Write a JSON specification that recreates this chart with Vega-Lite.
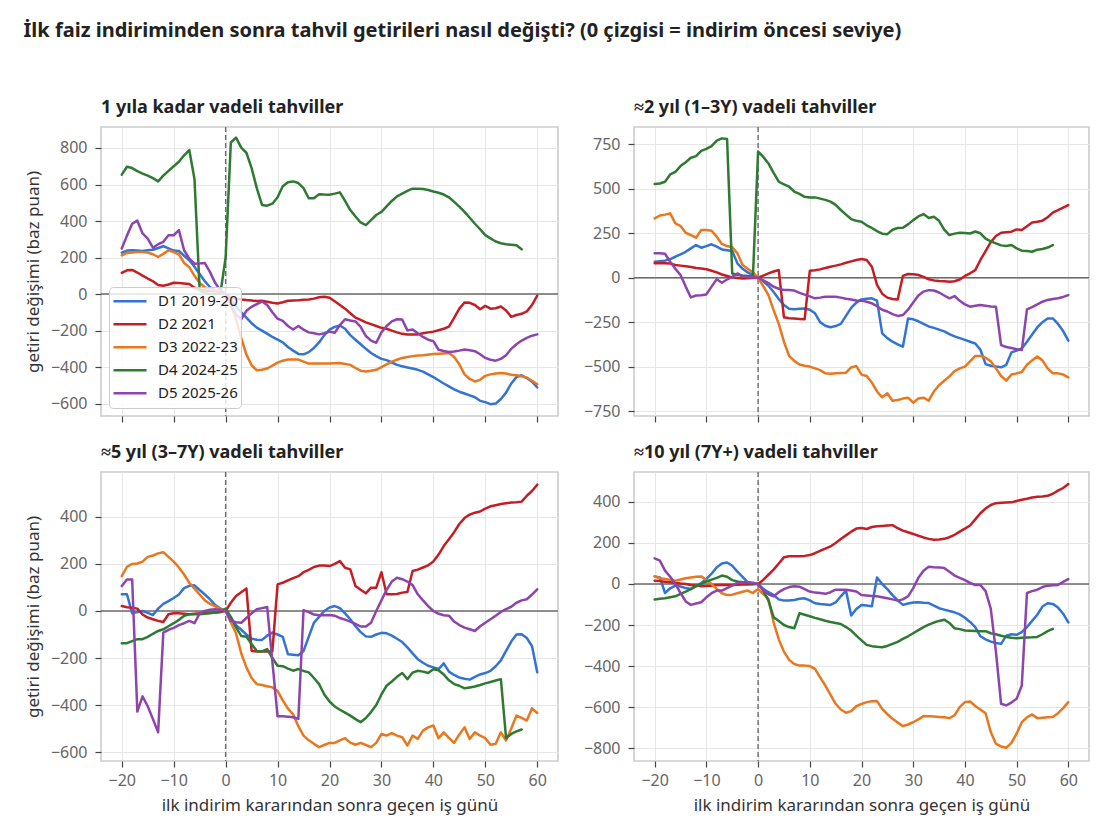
{
"$schema":"https://vega.github.io/schema/vega-lite/v6.json",
"padding":{"left":23,"top":20,"right":20,"bottom":8},
"title":{"text":"İlk faiz indiriminden sonra tahvil getirileri nasıl değişti? (0 çizgisi = indirim öncesi seviye)","fontSize":20,"frame":"bounds","anchor":"start","offset":58,"color":"#222222"},
"datasets":{
"p1d1":[{"x":-20,"y":227},{"x":-19,"y":238},{"x":-18,"y":240},{"x":-17,"y":238},{"x":-16,"y":236},{"x":-15,"y":240},{"x":-14,"y":243},{"x":-13,"y":252},{"x":-12,"y":262},{"x":-11,"y":250},{"x":-10,"y":238},{"x":-9,"y":236},{"x":-8,"y":210},{"x":-7,"y":185},{"x":-6,"y":150},{"x":-5,"y":110},{"x":-4,"y":70},{"x":-3,"y":37},{"x":-2,"y":22},{"x":-1,"y":10},{"x":0,"y":0},{"x":1,"y":-30},{"x":2,"y":-70},{"x":3,"y":-100},{"x":4,"y":-129},{"x":5,"y":-160},{"x":6,"y":-184},{"x":7,"y":-200},{"x":8,"y":-217},{"x":9,"y":-235},{"x":10,"y":-250},{"x":11,"y":-265},{"x":12,"y":-290},{"x":13,"y":-310},{"x":14,"y":-328},{"x":15,"y":-330},{"x":16,"y":-318},{"x":17,"y":-295},{"x":18,"y":-265},{"x":19,"y":-225},{"x":20,"y":-195},{"x":21,"y":-180},{"x":22,"y":-172},{"x":23,"y":-190},{"x":24,"y":-225},{"x":25,"y":-250},{"x":26,"y":-275},{"x":27,"y":-300},{"x":28,"y":-323},{"x":29,"y":-340},{"x":30,"y":-355},{"x":31,"y":-362},{"x":32,"y":-375},{"x":33,"y":-388},{"x":34,"y":-396},{"x":35,"y":-402},{"x":36,"y":-408},{"x":37,"y":-415},{"x":38,"y":-425},{"x":39,"y":-440},{"x":40,"y":-455},{"x":41,"y":-472},{"x":42,"y":-490},{"x":43,"y":-506},{"x":44,"y":-522},{"x":45,"y":-535},{"x":46,"y":-545},{"x":47,"y":-555},{"x":48,"y":-565},{"x":49,"y":-585},{"x":50,"y":-592},{"x":51,"y":-603},{"x":52,"y":-600},{"x":53,"y":-575},{"x":54,"y":-540},{"x":55,"y":-490},{"x":56,"y":-455},{"x":57,"y":-445},{"x":58,"y":-460},{"x":59,"y":-480},{"x":60,"y":-512}],
"p1d2":[{"x":-20,"y":116},{"x":-19,"y":130},{"x":-18,"y":132},{"x":-17,"y":118},{"x":-16,"y":101},{"x":-15,"y":85},{"x":-14,"y":70},{"x":-13,"y":50},{"x":-12,"y":45},{"x":-11,"y":52},{"x":-10,"y":62},{"x":-9,"y":60},{"x":-8,"y":58},{"x":-7,"y":55},{"x":-6,"y":35},{"x":-5,"y":25},{"x":-4,"y":20},{"x":-3,"y":18},{"x":-2,"y":15},{"x":-1,"y":12},{"x":0,"y":0},{"x":1,"y":-20},{"x":2,"y":-25},{"x":3,"y":-30},{"x":4,"y":-33},{"x":5,"y":-35},{"x":6,"y":-38},{"x":7,"y":-37},{"x":8,"y":-42},{"x":9,"y":-48},{"x":10,"y":-52},{"x":11,"y":-45},{"x":12,"y":-37},{"x":13,"y":-35},{"x":14,"y":-34},{"x":15,"y":-31},{"x":16,"y":-30},{"x":17,"y":-25},{"x":18,"y":-18},{"x":19,"y":-15},{"x":20,"y":-20},{"x":21,"y":-40},{"x":22,"y":-60},{"x":23,"y":-80},{"x":24,"y":-105},{"x":25,"y":-129},{"x":26,"y":-142},{"x":27,"y":-155},{"x":28,"y":-165},{"x":29,"y":-175},{"x":30,"y":-185},{"x":31,"y":-190},{"x":32,"y":-200},{"x":33,"y":-210},{"x":34,"y":-218},{"x":35,"y":-222},{"x":36,"y":-222},{"x":37,"y":-221},{"x":38,"y":-215},{"x":39,"y":-210},{"x":40,"y":-206},{"x":41,"y":-198},{"x":42,"y":-190},{"x":43,"y":-178},{"x":44,"y":-130},{"x":45,"y":-80},{"x":46,"y":-46},{"x":47,"y":-48},{"x":48,"y":-60},{"x":49,"y":-83},{"x":50,"y":-65},{"x":51,"y":-80},{"x":52,"y":-78},{"x":53,"y":-68},{"x":54,"y":-90},{"x":55,"y":-125},{"x":56,"y":-115},{"x":57,"y":-108},{"x":58,"y":-95},{"x":59,"y":-60},{"x":60,"y":-9}],
"p1d3":[{"x":-20,"y":212},{"x":-19,"y":225},{"x":-18,"y":228},{"x":-17,"y":230},{"x":-16,"y":230},{"x":-15,"y":227},{"x":-14,"y":218},{"x":-13,"y":203},{"x":-12,"y":220},{"x":-11,"y":240},{"x":-10,"y":230},{"x":-9,"y":218},{"x":-8,"y":170},{"x":-7,"y":147},{"x":-6,"y":100},{"x":-5,"y":60},{"x":-4,"y":37},{"x":-3,"y":25},{"x":-2,"y":20},{"x":-1,"y":12},{"x":0,"y":0},{"x":1,"y":-60},{"x":2,"y":-140},{"x":3,"y":-240},{"x":4,"y":-332},{"x":5,"y":-390},{"x":6,"y":-418},{"x":7,"y":-415},{"x":8,"y":-408},{"x":9,"y":-392},{"x":10,"y":-376},{"x":11,"y":-365},{"x":12,"y":-359},{"x":13,"y":-358},{"x":14,"y":-359},{"x":15,"y":-370},{"x":16,"y":-381},{"x":17,"y":-381},{"x":18,"y":-381},{"x":20,"y":-381},{"x":22,"y":-378},{"x":24,"y":-388},{"x":25,"y":-405},{"x":26,"y":-420},{"x":27,"y":-424},{"x":28,"y":-420},{"x":29,"y":-415},{"x":30,"y":-400},{"x":31,"y":-385},{"x":32,"y":-370},{"x":33,"y":-360},{"x":34,"y":-350},{"x":35,"y":-345},{"x":36,"y":-340},{"x":37,"y":-337},{"x":38,"y":-335},{"x":40,"y":-328},{"x":42,"y":-325},{"x":43,"y":-323},{"x":44,"y":-345},{"x":45,"y":-385},{"x":46,"y":-440},{"x":47,"y":-465},{"x":48,"y":-479},{"x":49,"y":-470},{"x":50,"y":-448},{"x":51,"y":-440},{"x":52,"y":-435},{"x":53,"y":-433},{"x":54,"y":-435},{"x":55,"y":-442},{"x":56,"y":-445},{"x":57,"y":-450},{"x":58,"y":-458},{"x":59,"y":-475},{"x":60,"y":-494}],
"p1d4":[{"x":-20,"y":654},{"x":-19,"y":697},{"x":-18,"y":690},{"x":-17,"y":673},{"x":-16,"y":660},{"x":-15,"y":649},{"x":-14,"y":635},{"x":-13,"y":617},{"x":-12,"y":649},{"x":-11,"y":675},{"x":-10,"y":700},{"x":-9,"y":725},{"x":-8,"y":760},{"x":-7,"y":789},{"x":-6,"y":630},{"x":-5,"y":20},{"x":-4,"y":5},{"x":-3,"y":0},{"x":-2,"y":0},{"x":-1,"y":5},{"x":0,"y":200},{"x":1,"y":830},{"x":2,"y":857},{"x":3,"y":802},{"x":4,"y":774},{"x":5,"y":690},{"x":6,"y":580},{"x":7,"y":488},{"x":8,"y":484},{"x":9,"y":495},{"x":10,"y":530},{"x":11,"y":590},{"x":12,"y":612},{"x":13,"y":617},{"x":14,"y":608},{"x":15,"y":580},{"x":16,"y":525},{"x":17,"y":525},{"x":18,"y":547},{"x":19,"y":545},{"x":20,"y":544},{"x":21,"y":550},{"x":22,"y":557},{"x":23,"y":510},{"x":24,"y":460},{"x":25,"y":425},{"x":26,"y":392},{"x":27,"y":378},{"x":28,"y":405},{"x":29,"y":433},{"x":30,"y":450},{"x":31,"y":480},{"x":32,"y":510},{"x":33,"y":535},{"x":34,"y":550},{"x":35,"y":565},{"x":36,"y":577},{"x":37,"y":577},{"x":38,"y":575},{"x":39,"y":570},{"x":40,"y":562},{"x":41,"y":555},{"x":42,"y":545},{"x":43,"y":530},{"x":44,"y":505},{"x":45,"y":479},{"x":46,"y":450},{"x":47,"y":418},{"x":48,"y":385},{"x":49,"y":355},{"x":50,"y":323},{"x":51,"y":305},{"x":52,"y":288},{"x":53,"y":278},{"x":54,"y":273},{"x":55,"y":270},{"x":56,"y":267},{"x":57,"y":245}],
"p1d5":[{"x":-20,"y":249},{"x":-19,"y":320},{"x":-18,"y":385},{"x":-17,"y":402},{"x":-16,"y":332},{"x":-15,"y":304},{"x":-14,"y":254},{"x":-13,"y":273},{"x":-12,"y":286},{"x":-11,"y":322},{"x":-10,"y":322},{"x":-9,"y":350},{"x":-8,"y":240},{"x":-7,"y":194},{"x":-6,"y":166},{"x":-5,"y":168},{"x":-4,"y":170},{"x":-3,"y":120},{"x":-2,"y":60},{"x":-1,"y":20},{"x":0,"y":0},{"x":1,"y":-60},{"x":2,"y":-111},{"x":3,"y":-138},{"x":4,"y":-92},{"x":5,"y":-70},{"x":6,"y":-55},{"x":7,"y":-41},{"x":8,"y":-60},{"x":9,"y":-100},{"x":10,"y":-135},{"x":11,"y":-147},{"x":12,"y":-175},{"x":13,"y":-194},{"x":14,"y":-175},{"x":15,"y":-195},{"x":16,"y":-210},{"x":17,"y":-215},{"x":18,"y":-221},{"x":19,"y":-215},{"x":20,"y":-205},{"x":21,"y":-212},{"x":22,"y":-170},{"x":23,"y":-138},{"x":24,"y":-145},{"x":25,"y":-150},{"x":26,"y":-180},{"x":27,"y":-230},{"x":28,"y":-255},{"x":29,"y":-267},{"x":30,"y":-210},{"x":31,"y":-175},{"x":32,"y":-150},{"x":33,"y":-138},{"x":34,"y":-140},{"x":35,"y":-199},{"x":36,"y":-194},{"x":37,"y":-215},{"x":38,"y":-235},{"x":39,"y":-250},{"x":40,"y":-258},{"x":41,"y":-305},{"x":42,"y":-312},{"x":43,"y":-317},{"x":44,"y":-315},{"x":45,"y":-310},{"x":46,"y":-304},{"x":47,"y":-308},{"x":48,"y":-313},{"x":49,"y":-330},{"x":50,"y":-350},{"x":51,"y":-360},{"x":52,"y":-365},{"x":53,"y":-355},{"x":54,"y":-335},{"x":55,"y":-300},{"x":56,"y":-275},{"x":57,"y":-255},{"x":58,"y":-240},{"x":59,"y":-228},{"x":60,"y":-221}],
"p2d1":[{"x":-20,"y":90},{"x":-19,"y":93},{"x":-18,"y":96},{"x":-17,"y":105},{"x":-16,"y":118},{"x":-15,"y":132},{"x":-14,"y":146},{"x":-13,"y":165},{"x":-12,"y":184},{"x":-11,"y":169},{"x":-10,"y":178},{"x":-9,"y":188},{"x":-8,"y":175},{"x":-7,"y":159},{"x":-6,"y":155},{"x":-5,"y":150},{"x":-4,"y":81},{"x":-3,"y":50},{"x":-2,"y":30},{"x":-1,"y":15},{"x":0,"y":0},{"x":1,"y":-20},{"x":2,"y":-45},{"x":3,"y":-80},{"x":4,"y":-120},{"x":5,"y":-154},{"x":6,"y":-175},{"x":7,"y":-178},{"x":8,"y":-175},{"x":9,"y":-173},{"x":10,"y":-180},{"x":11,"y":-200},{"x":12,"y":-250},{"x":13,"y":-270},{"x":14,"y":-279},{"x":15,"y":-272},{"x":16,"y":-260},{"x":17,"y":-215},{"x":18,"y":-170},{"x":19,"y":-140},{"x":20,"y":-122},{"x":21,"y":-118},{"x":22,"y":-116},{"x":23,"y":-129},{"x":24,"y":-313},{"x":25,"y":-340},{"x":26,"y":-360},{"x":27,"y":-375},{"x":28,"y":-388},{"x":29,"y":-229},{"x":30,"y":-234},{"x":31,"y":-245},{"x":32,"y":-260},{"x":33,"y":-274},{"x":34,"y":-282},{"x":35,"y":-292},{"x":36,"y":-302},{"x":37,"y":-317},{"x":38,"y":-330},{"x":39,"y":-340},{"x":40,"y":-350},{"x":41,"y":-360},{"x":42,"y":-370},{"x":43,"y":-405},{"x":44,"y":-486},{"x":45,"y":-495},{"x":46,"y":-500},{"x":47,"y":-504},{"x":48,"y":-490},{"x":49,"y":-420},{"x":50,"y":-410},{"x":51,"y":-398},{"x":52,"y":-360},{"x":53,"y":-320},{"x":54,"y":-280},{"x":55,"y":-250},{"x":56,"y":-229},{"x":57,"y":-229},{"x":58,"y":-260},{"x":59,"y":-300},{"x":60,"y":-354}],
"p2d2":[{"x":-20,"y":81},{"x":-19,"y":81},{"x":-18,"y":81},{"x":-17,"y":80},{"x":-16,"y":72},{"x":-15,"y":68},{"x":-14,"y":64},{"x":-13,"y":60},{"x":-12,"y":55},{"x":-11,"y":52},{"x":-10,"y":48},{"x":-9,"y":39},{"x":-8,"y":30},{"x":-7,"y":18},{"x":-6,"y":10},{"x":-5,"y":2},{"x":-4,"y":-2},{"x":-3,"y":-4},{"x":-2,"y":-3},{"x":-1,"y":-2},{"x":0,"y":0},{"x":1,"y":12},{"x":2,"y":24},{"x":3,"y":35},{"x":4,"y":43},{"x":5,"y":-223},{"x":6,"y":-228},{"x":7,"y":-230},{"x":8,"y":-232},{"x":9,"y":-234},{"x":10,"y":39},{"x":11,"y":42},{"x":12,"y":47},{"x":13,"y":55},{"x":14,"y":62},{"x":15,"y":68},{"x":16,"y":75},{"x":17,"y":84},{"x":18,"y":92},{"x":19,"y":100},{"x":20,"y":105},{"x":21,"y":100},{"x":22,"y":62},{"x":23,"y":-40},{"x":24,"y":-90},{"x":25,"y":-112},{"x":26,"y":-120},{"x":27,"y":-122},{"x":28,"y":10},{"x":29,"y":21},{"x":30,"y":20},{"x":31,"y":15},{"x":32,"y":5},{"x":33,"y":-9},{"x":34,"y":-15},{"x":35,"y":-19},{"x":36,"y":-20},{"x":37,"y":-22},{"x":38,"y":-20},{"x":39,"y":-10},{"x":40,"y":10},{"x":41,"y":25},{"x":42,"y":43},{"x":43,"y":100},{"x":44,"y":150},{"x":45,"y":200},{"x":46,"y":235},{"x":47,"y":253},{"x":48,"y":256},{"x":49,"y":259},{"x":50,"y":272},{"x":51,"y":268},{"x":52,"y":290},{"x":53,"y":311},{"x":54,"y":315},{"x":55,"y":321},{"x":56,"y":340},{"x":57,"y":366},{"x":58,"y":380},{"x":59,"y":395},{"x":60,"y":409}],
"p2d3":[{"x":-20,"y":334},{"x":-19,"y":350},{"x":-18,"y":355},{"x":-17,"y":362},{"x":-16,"y":306},{"x":-15,"y":291},{"x":-14,"y":253},{"x":-13,"y":240},{"x":-12,"y":225},{"x":-11,"y":268},{"x":-10,"y":268},{"x":-9,"y":264},{"x":-8,"y":231},{"x":-7,"y":190},{"x":-6,"y":178},{"x":-5,"y":171},{"x":-4,"y":137},{"x":-3,"y":71},{"x":-2,"y":50},{"x":-1,"y":30},{"x":0,"y":0},{"x":1,"y":-47},{"x":2,"y":-98},{"x":3,"y":-182},{"x":4,"y":-260},{"x":5,"y":-360},{"x":6,"y":-440},{"x":7,"y":-468},{"x":8,"y":-488},{"x":9,"y":-495},{"x":10,"y":-500},{"x":11,"y":-510},{"x":12,"y":-520},{"x":13,"y":-538},{"x":14,"y":-540},{"x":15,"y":-538},{"x":16,"y":-536},{"x":17,"y":-534},{"x":18,"y":-505},{"x":19,"y":-497},{"x":20,"y":-545},{"x":21,"y":-553},{"x":22,"y":-590},{"x":23,"y":-640},{"x":24,"y":-673},{"x":25,"y":-650},{"x":26,"y":-692},{"x":27,"y":-688},{"x":28,"y":-680},{"x":29,"y":-675},{"x":30,"y":-703},{"x":31,"y":-680},{"x":32,"y":-675},{"x":33,"y":-692},{"x":34,"y":-640},{"x":35,"y":-605},{"x":36,"y":-580},{"x":37,"y":-555},{"x":38,"y":-525},{"x":39,"y":-510},{"x":40,"y":-500},{"x":41,"y":-470},{"x":42,"y":-440},{"x":43,"y":-440},{"x":44,"y":-450},{"x":45,"y":-470},{"x":46,"y":-510},{"x":47,"y":-553},{"x":48,"y":-579},{"x":49,"y":-545},{"x":50,"y":-538},{"x":51,"y":-530},{"x":52,"y":-490},{"x":53,"y":-465},{"x":54,"y":-444},{"x":55,"y":-465},{"x":56,"y":-510},{"x":57,"y":-538},{"x":58,"y":-538},{"x":59,"y":-545},{"x":60,"y":-561}],
"p2d4":[{"x":-20,"y":527},{"x":-19,"y":530},{"x":-18,"y":540},{"x":-17,"y":581},{"x":-16,"y":596},{"x":-15,"y":628},{"x":-14,"y":650},{"x":-13,"y":675},{"x":-12,"y":684},{"x":-11,"y":714},{"x":-10,"y":725},{"x":-9,"y":740},{"x":-8,"y":771},{"x":-7,"y":784},{"x":-6,"y":780},{"x":-5,"y":24},{"x":-4,"y":15},{"x":-3,"y":12},{"x":-2,"y":10},{"x":-1,"y":5},{"x":0,"y":710},{"x":1,"y":680},{"x":2,"y":643},{"x":3,"y":590},{"x":4,"y":540},{"x":5,"y":525},{"x":6,"y":512},{"x":7,"y":485},{"x":8,"y":472},{"x":9,"y":455},{"x":10,"y":452},{"x":11,"y":452},{"x":12,"y":445},{"x":13,"y":438},{"x":14,"y":428},{"x":15,"y":410},{"x":16,"y":381},{"x":17,"y":355},{"x":18,"y":330},{"x":19,"y":320},{"x":20,"y":315},{"x":21,"y":295},{"x":22,"y":280},{"x":23,"y":262},{"x":24,"y":248},{"x":25,"y":245},{"x":26,"y":270},{"x":27,"y":280},{"x":28,"y":281},{"x":29,"y":300},{"x":30,"y":324},{"x":31,"y":345},{"x":32,"y":358},{"x":33,"y":336},{"x":34,"y":343},{"x":35,"y":320},{"x":36,"y":270},{"x":37,"y":240},{"x":38,"y":248},{"x":39,"y":253},{"x":40,"y":251},{"x":41,"y":249},{"x":42,"y":260},{"x":43,"y":250},{"x":44,"y":220},{"x":45,"y":205},{"x":46,"y":193},{"x":47,"y":182},{"x":48,"y":178},{"x":49,"y":184},{"x":50,"y":165},{"x":51,"y":152},{"x":52,"y":150},{"x":53,"y":146},{"x":54,"y":158},{"x":55,"y":162},{"x":56,"y":170},{"x":57,"y":184}],
"p2d5":[{"x":-20,"y":137},{"x":-19,"y":137},{"x":-18,"y":135},{"x":-17,"y":90},{"x":-16,"y":50},{"x":-15,"y":15},{"x":-14,"y":-50},{"x":-13,"y":-111},{"x":-12,"y":-100},{"x":-11,"y":-98},{"x":-10,"y":-94},{"x":-9,"y":-50},{"x":-8,"y":-9},{"x":-7,"y":-28},{"x":-6,"y":-10},{"x":-5,"y":5},{"x":-4,"y":24},{"x":-3,"y":8},{"x":-2,"y":3},{"x":-1,"y":2},{"x":0,"y":0},{"x":1,"y":-15},{"x":2,"y":-30},{"x":3,"y":-51},{"x":4,"y":-62},{"x":5,"y":-69},{"x":6,"y":-69},{"x":7,"y":-72},{"x":8,"y":-85},{"x":9,"y":-95},{"x":10,"y":-105},{"x":11,"y":-116},{"x":12,"y":-112},{"x":13,"y":-107},{"x":14,"y":-107},{"x":15,"y":-107},{"x":16,"y":-112},{"x":17,"y":-118},{"x":18,"y":-122},{"x":19,"y":-128},{"x":20,"y":-129},{"x":21,"y":-135},{"x":22,"y":-144},{"x":23,"y":-160},{"x":24,"y":-180},{"x":25,"y":-190},{"x":26,"y":-205},{"x":27,"y":-215},{"x":28,"y":-210},{"x":29,"y":-180},{"x":30,"y":-140},{"x":31,"y":-100},{"x":32,"y":-78},{"x":33,"y":-70},{"x":34,"y":-72},{"x":35,"y":-83},{"x":36,"y":-100},{"x":37,"y":-116},{"x":38,"y":-103},{"x":39,"y":-130},{"x":40,"y":-150},{"x":41,"y":-163},{"x":42,"y":-158},{"x":43,"y":-154},{"x":44,"y":-158},{"x":45,"y":-162},{"x":46,"y":-163},{"x":47,"y":-379},{"x":48,"y":-390},{"x":49,"y":-395},{"x":50,"y":-402},{"x":51,"y":-407},{"x":52,"y":-178},{"x":53,"y":-165},{"x":54,"y":-150},{"x":55,"y":-135},{"x":56,"y":-125},{"x":57,"y":-120},{"x":58,"y":-115},{"x":59,"y":-108},{"x":60,"y":-98}],
"p3d1":[{"x":-20,"y":71},{"x":-19,"y":71},{"x":-18,"y":-10},{"x":-17,"y":-5},{"x":-16,"y":0},{"x":-15,"y":-8},{"x":-14,"y":-17},{"x":-13,"y":10},{"x":-12,"y":30},{"x":-11,"y":42},{"x":-10,"y":55},{"x":-9,"y":70},{"x":-8,"y":97},{"x":-7,"y":107},{"x":-6,"y":109},{"x":-5,"y":89},{"x":-4,"y":70},{"x":-3,"y":49},{"x":-2,"y":25},{"x":-1,"y":10},{"x":0,"y":0},{"x":1,"y":-30},{"x":2,"y":-60},{"x":3,"y":-80},{"x":4,"y":-100},{"x":5,"y":-118},{"x":6,"y":-122},{"x":7,"y":-123},{"x":8,"y":-105},{"x":9,"y":-92},{"x":10,"y":-100},{"x":11,"y":-110},{"x":12,"y":-184},{"x":13,"y":-186},{"x":14,"y":-188},{"x":15,"y":-170},{"x":16,"y":-110},{"x":17,"y":-50},{"x":18,"y":-25},{"x":19,"y":0},{"x":20,"y":15},{"x":21,"y":21},{"x":22,"y":12},{"x":23,"y":-10},{"x":24,"y":-35},{"x":25,"y":-65},{"x":26,"y":-90},{"x":27,"y":-108},{"x":28,"y":-110},{"x":29,"y":-100},{"x":30,"y":-93},{"x":31,"y":-95},{"x":32,"y":-105},{"x":33,"y":-118},{"x":34,"y":-132},{"x":35,"y":-155},{"x":36,"y":-180},{"x":37,"y":-205},{"x":38,"y":-220},{"x":39,"y":-233},{"x":40,"y":-240},{"x":41,"y":-247},{"x":42,"y":-223},{"x":43,"y":-258},{"x":44,"y":-272},{"x":45,"y":-283},{"x":46,"y":-288},{"x":47,"y":-292},{"x":48,"y":-280},{"x":49,"y":-270},{"x":50,"y":-264},{"x":51,"y":-255},{"x":52,"y":-235},{"x":53,"y":-210},{"x":54,"y":-170},{"x":55,"y":-130},{"x":56,"y":-100},{"x":57,"y":-99},{"x":58,"y":-115},{"x":59,"y":-150},{"x":60,"y":-261}],
"p3d2":[{"x":-20,"y":21},{"x":-19,"y":16},{"x":-18,"y":14},{"x":-17,"y":10},{"x":-16,"y":-15},{"x":-15,"y":-28},{"x":-14,"y":-35},{"x":-13,"y":-42},{"x":-12,"y":-47},{"x":-11,"y":-14},{"x":-10,"y":-10},{"x":-9,"y":-10},{"x":-8,"y":-12},{"x":-7,"y":-14},{"x":-6,"y":-12},{"x":-5,"y":-10},{"x":-4,"y":-9},{"x":-3,"y":-8},{"x":-2,"y":-7},{"x":-1,"y":-5},{"x":0,"y":0},{"x":1,"y":35},{"x":2,"y":64},{"x":3,"y":80},{"x":4,"y":96},{"x":5,"y":-170},{"x":6,"y":-172},{"x":7,"y":-172},{"x":8,"y":-172},{"x":9,"y":-172},{"x":10,"y":113},{"x":11,"y":120},{"x":12,"y":130},{"x":13,"y":140},{"x":14,"y":148},{"x":15,"y":165},{"x":16,"y":175},{"x":17,"y":187},{"x":18,"y":193},{"x":19,"y":193},{"x":20,"y":191},{"x":21,"y":200},{"x":22,"y":212},{"x":23,"y":184},{"x":24,"y":177},{"x":25,"y":106},{"x":26,"y":90},{"x":27,"y":75},{"x":28,"y":99},{"x":29,"y":99},{"x":30,"y":165},{"x":31,"y":71},{"x":32,"y":71},{"x":33,"y":72},{"x":34,"y":78},{"x":35,"y":81},{"x":36,"y":170},{"x":37,"y":176},{"x":38,"y":185},{"x":39,"y":194},{"x":40,"y":210},{"x":41,"y":240},{"x":42,"y":276},{"x":43,"y":305},{"x":44,"y":335},{"x":45,"y":370},{"x":46,"y":395},{"x":47,"y":410},{"x":48,"y":418},{"x":49,"y":423},{"x":50,"y":435},{"x":51,"y":445},{"x":52,"y":450},{"x":53,"y":455},{"x":54,"y":458},{"x":55,"y":461},{"x":56,"y":462},{"x":57,"y":465},{"x":58,"y":490},{"x":59,"y":510},{"x":60,"y":537}],
"p3d3":[{"x":-20,"y":148},{"x":-19,"y":188},{"x":-18,"y":200},{"x":-17,"y":202},{"x":-16,"y":210},{"x":-15,"y":230},{"x":-14,"y":236},{"x":-13,"y":245},{"x":-12,"y":250},{"x":-11,"y":230},{"x":-10,"y":210},{"x":-9,"y":185},{"x":-8,"y":155},{"x":-7,"y":120},{"x":-6,"y":95},{"x":-5,"y":70},{"x":-4,"y":45},{"x":-3,"y":30},{"x":-2,"y":20},{"x":-1,"y":10},{"x":0,"y":0},{"x":1,"y":-49},{"x":2,"y":-95},{"x":3,"y":-180},{"x":4,"y":-240},{"x":5,"y":-285},{"x":6,"y":-311},{"x":7,"y":-315},{"x":8,"y":-320},{"x":9,"y":-325},{"x":10,"y":-340},{"x":11,"y":-380},{"x":12,"y":-415},{"x":13,"y":-440},{"x":14,"y":-490},{"x":15,"y":-530},{"x":16,"y":-550},{"x":17,"y":-565},{"x":18,"y":-579},{"x":19,"y":-570},{"x":20,"y":-561},{"x":21,"y":-561},{"x":22,"y":-550},{"x":23,"y":-541},{"x":24,"y":-560},{"x":25,"y":-569},{"x":26,"y":-561},{"x":27,"y":-570},{"x":28,"y":-579},{"x":29,"y":-561},{"x":30,"y":-523},{"x":31,"y":-530},{"x":32,"y":-519},{"x":33,"y":-530},{"x":34,"y":-537},{"x":35,"y":-572},{"x":36,"y":-530},{"x":37,"y":-544},{"x":38,"y":-509},{"x":39,"y":-495},{"x":40,"y":-487},{"x":41,"y":-541},{"x":42,"y":-516},{"x":43,"y":-540},{"x":44,"y":-561},{"x":45,"y":-525},{"x":46,"y":-495},{"x":47,"y":-544},{"x":48,"y":-516},{"x":49,"y":-530},{"x":50,"y":-541},{"x":51,"y":-569},{"x":52,"y":-565},{"x":53,"y":-516},{"x":54,"y":-551},{"x":55,"y":-500},{"x":56,"y":-445},{"x":57,"y":-455},{"x":58,"y":-466},{"x":59,"y":-414},{"x":60,"y":-434}],
"p3d4":[{"x":-20,"y":-137},{"x":-19,"y":-137},{"x":-18,"y":-128},{"x":-17,"y":-120},{"x":-16,"y":-120},{"x":-15,"y":-110},{"x":-14,"y":-97},{"x":-13,"y":-85},{"x":-12,"y":-78},{"x":-11,"y":-65},{"x":-10,"y":-52},{"x":-9,"y":-38},{"x":-8,"y":-20},{"x":-7,"y":-14},{"x":-6,"y":-14},{"x":-5,"y":-14},{"x":-4,"y":-12},{"x":-3,"y":-10},{"x":-2,"y":-7},{"x":-1,"y":-2},{"x":0,"y":10},{"x":1,"y":-25},{"x":2,"y":-70},{"x":3,"y":-106},{"x":4,"y":-110},{"x":5,"y":-140},{"x":6,"y":-170},{"x":7,"y":-172},{"x":8,"y":-162},{"x":9,"y":-200},{"x":10,"y":-233},{"x":11,"y":-235},{"x":12,"y":-245},{"x":13,"y":-254},{"x":14,"y":-247},{"x":15,"y":-255},{"x":16,"y":-261},{"x":17,"y":-285},{"x":18,"y":-311},{"x":19,"y":-355},{"x":20,"y":-385},{"x":21,"y":-406},{"x":22,"y":-420},{"x":23,"y":-432},{"x":24,"y":-445},{"x":25,"y":-460},{"x":26,"y":-473},{"x":27,"y":-455},{"x":28,"y":-430},{"x":29,"y":-400},{"x":30,"y":-355},{"x":31,"y":-318},{"x":32,"y":-300},{"x":33,"y":-280},{"x":34,"y":-264},{"x":35,"y":-290},{"x":36,"y":-262},{"x":37,"y":-254},{"x":38,"y":-258},{"x":39,"y":-264},{"x":40,"y":-248},{"x":41,"y":-252},{"x":42,"y":-270},{"x":43,"y":-295},{"x":44,"y":-311},{"x":45,"y":-318},{"x":46,"y":-329},{"x":47,"y":-325},{"x":48,"y":-321},{"x":49,"y":-315},{"x":50,"y":-308},{"x":51,"y":-302},{"x":52,"y":-296},{"x":53,"y":-290},{"x":54,"y":-541},{"x":55,"y":-523},{"x":56,"y":-512},{"x":57,"y":-504}],
"p3d5":[{"x":-20,"y":106},{"x":-19,"y":134},{"x":-18,"y":134},{"x":-17,"y":-428},{"x":-16,"y":-363},{"x":-15,"y":-405},{"x":-14,"y":-460},{"x":-13,"y":-516},{"x":-12,"y":-92},{"x":-11,"y":-80},{"x":-10,"y":-72},{"x":-9,"y":-60},{"x":-8,"y":-52},{"x":-7,"y":-42},{"x":-6,"y":-52},{"x":-5,"y":-10},{"x":-4,"y":0},{"x":-3,"y":5},{"x":-2,"y":7},{"x":-1,"y":5},{"x":0,"y":0},{"x":1,"y":-42},{"x":2,"y":-48},{"x":3,"y":-50},{"x":4,"y":-30},{"x":5,"y":-10},{"x":6,"y":7},{"x":7,"y":12},{"x":8,"y":17},{"x":9,"y":-215},{"x":10,"y":-448},{"x":11,"y":-448},{"x":12,"y":-450},{"x":13,"y":-452},{"x":14,"y":-459},{"x":15,"y":3},{"x":16,"y":-5},{"x":17,"y":-15},{"x":18,"y":-18},{"x":19,"y":-18},{"x":20,"y":-17},{"x":21,"y":-20},{"x":22,"y":-30},{"x":23,"y":-37},{"x":24,"y":-45},{"x":25,"y":-55},{"x":26,"y":-66},{"x":27,"y":-66},{"x":28,"y":-50},{"x":29,"y":0},{"x":30,"y":45},{"x":31,"y":90},{"x":32,"y":125},{"x":33,"y":141},{"x":34,"y":135},{"x":35,"y":125},{"x":36,"y":110},{"x":37,"y":71},{"x":38,"y":45},{"x":39,"y":21},{"x":40,"y":0},{"x":41,"y":-12},{"x":42,"y":-18},{"x":43,"y":-20},{"x":44,"y":-45},{"x":45,"y":-60},{"x":46,"y":-71},{"x":47,"y":-78},{"x":48,"y":-85},{"x":49,"y":-65},{"x":50,"y":-50},{"x":51,"y":-35},{"x":52,"y":-20},{"x":53,"y":-4},{"x":54,"y":8},{"x":55,"y":18},{"x":56,"y":35},{"x":57,"y":45},{"x":58,"y":50},{"x":59,"y":70},{"x":60,"y":92}],
"p4d1":[{"x":-20,"y":37},{"x":-19,"y":32},{"x":-18,"y":-44},{"x":-17,"y":-21},{"x":-16,"y":-8},{"x":-15,"y":-12},{"x":-14,"y":-20},{"x":-13,"y":-24},{"x":-12,"y":-10},{"x":-11,"y":5},{"x":-10,"y":25},{"x":-9,"y":50},{"x":-8,"y":81},{"x":-7,"y":100},{"x":-6,"y":105},{"x":-5,"y":89},{"x":-4,"y":60},{"x":-3,"y":35},{"x":-2,"y":8},{"x":-1,"y":5},{"x":0,"y":0},{"x":1,"y":-24},{"x":2,"y":-40},{"x":3,"y":-54},{"x":4,"y":-75},{"x":5,"y":-81},{"x":6,"y":-81},{"x":7,"y":-78},{"x":8,"y":-72},{"x":9,"y":-70},{"x":10,"y":-80},{"x":11,"y":-94},{"x":12,"y":-98},{"x":13,"y":-100},{"x":14,"y":-102},{"x":15,"y":-90},{"x":16,"y":-60},{"x":17,"y":-32},{"x":18,"y":-154},{"x":19,"y":-122},{"x":20,"y":-102},{"x":21,"y":-105},{"x":22,"y":-109},{"x":23,"y":32},{"x":24,"y":0},{"x":25,"y":-25},{"x":26,"y":-54},{"x":27,"y":-80},{"x":28,"y":-102},{"x":29,"y":-95},{"x":30,"y":-90},{"x":31,"y":-89},{"x":32,"y":-92},{"x":33,"y":-93},{"x":34,"y":-105},{"x":35,"y":-118},{"x":36,"y":-125},{"x":37,"y":-132},{"x":38,"y":-138},{"x":39,"y":-148},{"x":40,"y":-165},{"x":41,"y":-185},{"x":42,"y":-210},{"x":43,"y":-255},{"x":44,"y":-270},{"x":45,"y":-281},{"x":46,"y":-288},{"x":47,"y":-292},{"x":48,"y":-252},{"x":49,"y":-245},{"x":50,"y":-248},{"x":51,"y":-235},{"x":52,"y":-210},{"x":53,"y":-180},{"x":54,"y":-150},{"x":55,"y":-110},{"x":56,"y":-94},{"x":57,"y":-97},{"x":58,"y":-115},{"x":59,"y":-145},{"x":60,"y":-187}],
"p4d2":[{"x":-20,"y":16},{"x":-19,"y":14},{"x":-18,"y":11},{"x":-17,"y":8},{"x":-16,"y":5},{"x":-15,"y":2},{"x":-14,"y":0},{"x":-13,"y":-5},{"x":-12,"y":-8},{"x":-11,"y":-11},{"x":-10,"y":-10},{"x":-9,"y":-8},{"x":-8,"y":-5},{"x":-7,"y":-5},{"x":-6,"y":-5},{"x":-5,"y":-5},{"x":-4,"y":-4},{"x":-3,"y":-3},{"x":-2,"y":-2},{"x":-1,"y":-1},{"x":0,"y":0},{"x":1,"y":20},{"x":2,"y":45},{"x":3,"y":70},{"x":4,"y":100},{"x":5,"y":130},{"x":6,"y":135},{"x":7,"y":135},{"x":8,"y":135},{"x":9,"y":137},{"x":10,"y":141},{"x":11,"y":150},{"x":12,"y":162},{"x":13,"y":172},{"x":14,"y":183},{"x":15,"y":200},{"x":16,"y":219},{"x":17,"y":237},{"x":18,"y":255},{"x":19,"y":270},{"x":20,"y":273},{"x":21,"y":268},{"x":22,"y":278},{"x":23,"y":281},{"x":24,"y":283},{"x":25,"y":285},{"x":26,"y":287},{"x":27,"y":272},{"x":28,"y":260},{"x":29,"y":252},{"x":30,"y":244},{"x":31,"y":235},{"x":32,"y":227},{"x":33,"y":220},{"x":34,"y":216},{"x":35,"y":217},{"x":36,"y":220},{"x":37,"y":228},{"x":38,"y":240},{"x":39,"y":255},{"x":40,"y":270},{"x":41,"y":285},{"x":42,"y":315},{"x":43,"y":345},{"x":44,"y":368},{"x":45,"y":385},{"x":46,"y":394},{"x":47,"y":396},{"x":48,"y":397},{"x":49,"y":398},{"x":50,"y":405},{"x":51,"y":411},{"x":52,"y":416},{"x":53,"y":422},{"x":54,"y":425},{"x":55,"y":427},{"x":56,"y":430},{"x":57,"y":440},{"x":58,"y":455},{"x":59,"y":468},{"x":60,"y":487}],
"p4d3":[{"x":-20,"y":37},{"x":-19,"y":28},{"x":-18,"y":24},{"x":-17,"y":20},{"x":-16,"y":16},{"x":-15,"y":22},{"x":-14,"y":28},{"x":-13,"y":32},{"x":-12,"y":35},{"x":-11,"y":37},{"x":-10,"y":20},{"x":-9,"y":0},{"x":-8,"y":-24},{"x":-7,"y":-45},{"x":-6,"y":-54},{"x":-5,"y":-52},{"x":-4,"y":-45},{"x":-3,"y":-38},{"x":-2,"y":-32},{"x":-1,"y":-44},{"x":0,"y":-25},{"x":1,"y":-49},{"x":2,"y":-73},{"x":3,"y":-187},{"x":4,"y":-270},{"x":5,"y":-330},{"x":6,"y":-370},{"x":7,"y":-390},{"x":8,"y":-398},{"x":9,"y":-398},{"x":10,"y":-400},{"x":11,"y":-414},{"x":12,"y":-455},{"x":13,"y":-495},{"x":14,"y":-540},{"x":15,"y":-584},{"x":16,"y":-612},{"x":17,"y":-628},{"x":18,"y":-620},{"x":19,"y":-596},{"x":20,"y":-585},{"x":21,"y":-576},{"x":22,"y":-572},{"x":23,"y":-571},{"x":24,"y":-609},{"x":25,"y":-635},{"x":26,"y":-657},{"x":27,"y":-675},{"x":28,"y":-693},{"x":29,"y":-685},{"x":30,"y":-674},{"x":31,"y":-660},{"x":32,"y":-644},{"x":33,"y":-645},{"x":34,"y":-646},{"x":35,"y":-648},{"x":36,"y":-650},{"x":37,"y":-654},{"x":38,"y":-640},{"x":39,"y":-600},{"x":40,"y":-576},{"x":41,"y":-573},{"x":42,"y":-595},{"x":43,"y":-612},{"x":44,"y":-630},{"x":45,"y":-722},{"x":46,"y":-779},{"x":47,"y":-792},{"x":48,"y":-798},{"x":49,"y":-775},{"x":50,"y":-730},{"x":51,"y":-674},{"x":52,"y":-650},{"x":53,"y":-636},{"x":54,"y":-654},{"x":55,"y":-652},{"x":56,"y":-650},{"x":57,"y":-649},{"x":58,"y":-630},{"x":59,"y":-605},{"x":60,"y":-576}],
"p4d4":[{"x":-20,"y":-76},{"x":-19,"y":-72},{"x":-18,"y":-70},{"x":-17,"y":-65},{"x":-16,"y":-60},{"x":-15,"y":-48},{"x":-14,"y":-37},{"x":-13,"y":-25},{"x":-12,"y":-11},{"x":-11,"y":0},{"x":-10,"y":12},{"x":-9,"y":21},{"x":-8,"y":30},{"x":-7,"y":41},{"x":-6,"y":35},{"x":-5,"y":19},{"x":-4,"y":12},{"x":-3,"y":8},{"x":-2,"y":5},{"x":-1,"y":2},{"x":0,"y":0},{"x":1,"y":-32},{"x":2,"y":-81},{"x":3,"y":-162},{"x":4,"y":-180},{"x":5,"y":-200},{"x":6,"y":-210},{"x":7,"y":-216},{"x":8,"y":-143},{"x":9,"y":-150},{"x":10,"y":-157},{"x":11,"y":-165},{"x":12,"y":-172},{"x":13,"y":-179},{"x":14,"y":-185},{"x":15,"y":-190},{"x":16,"y":-195},{"x":17,"y":-210},{"x":18,"y":-227},{"x":19,"y":-252},{"x":20,"y":-275},{"x":21,"y":-297},{"x":22,"y":-303},{"x":23,"y":-306},{"x":24,"y":-308},{"x":25,"y":-302},{"x":26,"y":-292},{"x":27,"y":-282},{"x":28,"y":-268},{"x":29,"y":-255},{"x":30,"y":-240},{"x":31,"y":-225},{"x":32,"y":-210},{"x":33,"y":-198},{"x":34,"y":-188},{"x":35,"y":-180},{"x":36,"y":-174},{"x":37,"y":-190},{"x":38,"y":-216},{"x":39,"y":-220},{"x":40,"y":-227},{"x":41,"y":-228},{"x":42,"y":-229},{"x":43,"y":-230},{"x":44,"y":-230},{"x":45,"y":-240},{"x":46,"y":-245},{"x":47,"y":-252},{"x":48,"y":-258},{"x":49,"y":-262},{"x":50,"y":-265},{"x":51,"y":-262},{"x":52,"y":-261},{"x":53,"y":-260},{"x":54,"y":-258},{"x":55,"y":-245},{"x":56,"y":-230},{"x":57,"y":-219}],
"p4d5":[{"x":-20,"y":125},{"x":-19,"y":114},{"x":-18,"y":65},{"x":-17,"y":35},{"x":-16,"y":0},{"x":-15,"y":-44},{"x":-14,"y":-85},{"x":-13,"y":-102},{"x":-12,"y":-95},{"x":-11,"y":-89},{"x":-10,"y":-65},{"x":-9,"y":-45},{"x":-8,"y":-32},{"x":-7,"y":-32},{"x":-6,"y":-20},{"x":-5,"y":-8},{"x":-4,"y":5},{"x":-3,"y":8},{"x":-2,"y":8},{"x":-1,"y":5},{"x":0,"y":0},{"x":1,"y":-30},{"x":2,"y":-50},{"x":3,"y":-60},{"x":4,"y":-40},{"x":5,"y":-25},{"x":6,"y":-15},{"x":7,"y":-11},{"x":8,"y":-13},{"x":9,"y":-25},{"x":10,"y":-37},{"x":11,"y":-42},{"x":12,"y":-44},{"x":13,"y":-48},{"x":14,"y":-40},{"x":15,"y":-28},{"x":16,"y":-28},{"x":17,"y":-28},{"x":18,"y":-32},{"x":19,"y":-37},{"x":20,"y":-54},{"x":21,"y":-56},{"x":22,"y":-58},{"x":23,"y":-60},{"x":24,"y":-65},{"x":25,"y":-70},{"x":26,"y":-75},{"x":27,"y":-81},{"x":28,"y":-75},{"x":29,"y":-60},{"x":30,"y":-20},{"x":31,"y":30},{"x":32,"y":65},{"x":33,"y":84},{"x":34,"y":82},{"x":35,"y":81},{"x":36,"y":78},{"x":37,"y":60},{"x":38,"y":41},{"x":39,"y":30},{"x":40,"y":19},{"x":41,"y":5},{"x":42,"y":-5},{"x":43,"y":-5},{"x":44,"y":-35},{"x":45,"y":-120},{"x":46,"y":-330},{"x":47,"y":-584},{"x":48,"y":-592},{"x":49,"y":-578},{"x":50,"y":-560},{"x":51,"y":-495},{"x":52,"y":-44},{"x":53,"y":-35},{"x":54,"y":-28},{"x":55,"y":-15},{"x":56,"y":-8},{"x":57,"y":-6},{"x":58,"y":-5},{"x":59,"y":10},{"x":60,"y":24}]
},
"concat":[
{"width":457,"height":289,"title":{"text":"1 yıla kadar vadeli tahviller"},
"layer":[
{"data":{"values":[{"y":0}]},"mark":{"type":"rule","color":"#6b6b6b","strokeWidth":1.4},"encoding":{"y":{"field":"y","type":"quantitative"}}},
{"data":{"values":[{"x":0}]},"mark":{"type":"rule","color":"#6b6b6b","strokeWidth":1.4,"strokeDash":[5,3]},"encoding":{"x":{"field":"x","type":"quantitative"}}},
{"encoding":{"x":{"field":"x","type":"quantitative","scale":{"domain":[-24,64],"nice":false},"axis":{"values":[-20,-10,0,10,20,30,40,50,60],"labels":false,"title":null}},
"y":{"field":"y","type":"quantitative","scale":{"domain":[-668,915],"nice":false,"zero":false},"axis":{"values":[-600,-400,-200,0,200,400,600,800],"title":"getiri değişimi (baz puan)"}}},
"layer":[
{"data":{"name":"p1d1"},"mark":"line","encoding":{"color":{"datum":"D1 2019-20","legend":{"orient":"bottom-left","offset":8,"title":null}}}},
{"data":{"name":"p1d2"},"mark":"line","encoding":{"color":{"datum":"D2 2021"}}},
{"data":{"name":"p1d3"},"mark":"line","encoding":{"color":{"datum":"D3 2022-23"}}},
{"data":{"name":"p1d4"},"mark":"line","encoding":{"color":{"datum":"D4 2024-25"}}},
{"data":{"name":"p1d5"},"mark":"line","encoding":{"color":{"datum":"D5 2025-26"}}}
]}
]},
{"width":455,"height":289,"title":{"text":"≈2 yıl (1–3Y) vadeli tahviller"},
"layer":[
{"data":{"values":[{"y":0}]},"mark":{"type":"rule","color":"#6b6b6b","strokeWidth":1.4},"encoding":{"y":{"field":"y","type":"quantitative"}}},
{"data":{"values":[{"x":0}]},"mark":{"type":"rule","color":"#6b6b6b","strokeWidth":1.4,"strokeDash":[5,3]},"encoding":{"x":{"field":"x","type":"quantitative"}}},
{"encoding":{"x":{"field":"x","type":"quantitative","scale":{"domain":[-24,64],"nice":false},"axis":{"values":[-20,-10,0,10,20,30,40,50,60],"labels":false,"title":null}},
"y":{"field":"y","type":"quantitative","scale":{"domain":[-778,848],"nice":false,"zero":false},"axis":{"values":[-750,-500,-250,0,250,500,750],"title":null}}},
"layer":[
{"data":{"name":"p2d1"},"mark":"line","encoding":{"color":{"datum":"D1 2019-20","legend":null}}},
{"data":{"name":"p2d2"},"mark":"line","encoding":{"color":{"datum":"D2 2021","legend":null}}},
{"data":{"name":"p2d3"},"mark":"line","encoding":{"color":{"datum":"D3 2022-23","legend":null}}},
{"data":{"name":"p2d4"},"mark":"line","encoding":{"color":{"datum":"D4 2024-25","legend":null}}},
{"data":{"name":"p2d5"},"mark":"line","encoding":{"color":{"datum":"D5 2025-26","legend":null}}}
]}
]},
{"width":457,"height":289,"title":{"text":"≈5 yıl (3–7Y) vadeli tahviller"},
"layer":[
{"data":{"values":[{"y":0}]},"mark":{"type":"rule","color":"#6b6b6b","strokeWidth":1.4},"encoding":{"y":{"field":"y","type":"quantitative"}}},
{"data":{"values":[{"x":0}]},"mark":{"type":"rule","color":"#6b6b6b","strokeWidth":1.4,"strokeDash":[5,3]},"encoding":{"x":{"field":"x","type":"quantitative"}}},
{"encoding":{"x":{"field":"x","type":"quantitative","scale":{"domain":[-24,64],"nice":false},"axis":{"values":[-20,-10,0,10,20,30,40,50,60],"title":"ilk indirim kararından sonra geçen iş günü"}},
"y":{"field":"y","type":"quantitative","scale":{"domain":[-638,591],"nice":false,"zero":false},"axis":{"values":[-600,-400,-200,0,200,400],"title":"getiri değişimi (baz puan)"}}},
"layer":[
{"data":{"name":"p3d1"},"mark":"line","encoding":{"color":{"datum":"D1 2019-20","legend":null}}},
{"data":{"name":"p3d2"},"mark":"line","encoding":{"color":{"datum":"D2 2021","legend":null}}},
{"data":{"name":"p3d3"},"mark":"line","encoding":{"color":{"datum":"D3 2022-23","legend":null}}},
{"data":{"name":"p3d4"},"mark":"line","encoding":{"color":{"datum":"D4 2024-25","legend":null}}},
{"data":{"name":"p3d5"},"mark":"line","encoding":{"color":{"datum":"D5 2025-26","legend":null}}}
]}
]},
{"width":455,"height":289,"title":{"text":"≈10 yıl (7Y+) vadeli tahviller"},
"layer":[
{"data":{"values":[{"y":0}]},"mark":{"type":"rule","color":"#6b6b6b","strokeWidth":1.4},"encoding":{"y":{"field":"y","type":"quantitative"}}},
{"data":{"values":[{"x":0}]},"mark":{"type":"rule","color":"#6b6b6b","strokeWidth":1.4,"strokeDash":[5,3]},"encoding":{"x":{"field":"x","type":"quantitative"}}},
{"encoding":{"x":{"field":"x","type":"quantitative","scale":{"domain":[-24,64],"nice":false},"axis":{"values":[-20,-10,0,10,20,30,40,50,60],"title":"ilk indirim kararından sonra geçen iş günü"}},
"y":{"field":"y","type":"quantitative","scale":{"domain":[-863,546],"nice":false,"zero":false},"axis":{"values":[-800,-600,-400,-200,0,200,400],"title":null}}},
"layer":[
{"data":{"name":"p4d1"},"mark":"line","encoding":{"color":{"datum":"D1 2019-20","legend":null}}},
{"data":{"name":"p4d2"},"mark":"line","encoding":{"color":{"datum":"D2 2021","legend":null}}},
{"data":{"name":"p4d3"},"mark":"line","encoding":{"color":{"datum":"D3 2022-23","legend":null}}},
{"data":{"name":"p4d4"},"mark":"line","encoding":{"color":{"datum":"D4 2024-25","legend":null}}},
{"data":{"name":"p4d5"},"mark":"line","encoding":{"color":{"datum":"D5 2025-26","legend":null}}}
]}
]}
],
"columns":2,
"align":"each",
"spacing":{"row":19,"column":22},
"resolve":{"scale":{"color":"shared"},"legend":{"color":"independent"}},
"config":{
"font":"Noto Sans",
"view":{"stroke":"#cccccc","strokeWidth":1.6},
"axis":{"grid":true,"gridColor":"#e6e6e6","gridWidth":1,"domain":false,"tickColor":"#444444","tickSize":6,"tickWidth":1.2,"labelColor":"#666666","labelFontSize":16,"titleColor":"#333333","titleFontSize":17,"titleFontWeight":"normal"},
"axisX":{"labelPadding":5,"titlePadding":9},
"axisY":{"labelPadding":8,"titlePadding":8},
"title":{"anchor":"start","frame":"group","fontSize":18,"fontWeight":"bold","color":"#222222","offset":9},
"line":{"strokeWidth":2.5,"strokeJoin":"round","strokeCap":"round"},
"range":{"category":["#3273d3","#c41e24","#e8771d","#2e7a32","#8e44ad"]},
"legend":{"fillColor":"rgba(255,255,255,0.82)","strokeColor":"#cccccc","cornerRadius":4,"padding":3,"labelFontSize":15,"labelColor":"#222222","labelOffset":10,"symbolType":"stroke","symbolStrokeWidth":3.5,"symbolSize":1089,"clipHeight":22.5,"rowPadding":0}
}
}
